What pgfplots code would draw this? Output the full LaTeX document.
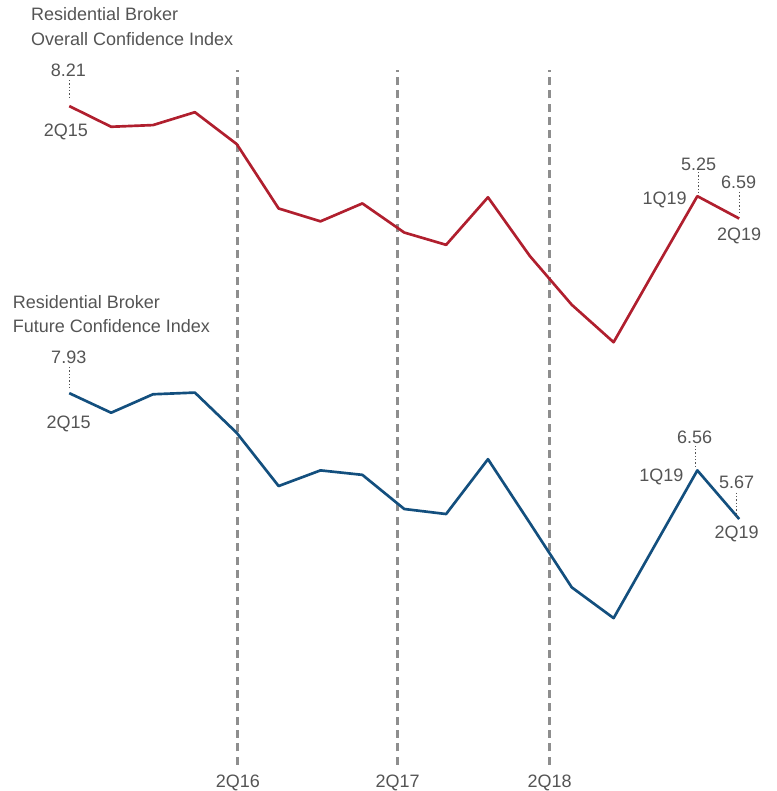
\documentclass[border=0pt]{standalone}
\usepackage{pgfplots}
\pgfplotsset{compat=1.18}
\usepackage{pgfplotstable}
\usepackage{fontspec}
\setmainfont{Liberation Sans}
\definecolor{redline}{HTML}{B01F2E}
\definecolor{blueline}{HTML}{134F7E}
\definecolor{txtgray}{HTML}{545454}
\definecolor{dashgray}{HTML}{8E8E8E}
% quarter index, overall (red), future (blue)
\pgfplotstableread{
i  overall future
0  8.21 7.93
1  7.84 7.58
2  7.87 7.91
3  8.10 7.94
4  7.53 7.22
5  6.38 6.27
6  6.15 6.55
7  6.47 6.47
8  5.95 5.86
9  5.73 5.77
10 6.58 6.75
11 5.53 5.61
12 4.66 4.46
13 3.99 3.91
14 5.30 5.23
15 6.60 6.55
16 6.20 5.68
}\datatable
\begin{document}
\begin{tikzpicture}[font=\fontsize{13.5pt}{18pt}\selectfont]
\begin{axis}[
  name=ax,
  scale only axis,
  width=582.75pt, height=593.25pt,
  xmin=-1.654, xmax=16.890,
  ymin=0.828, ymax=14.953,
  axis line style={draw=none},
  ytick=\empty,
  xtick={4.026,7.845,11.473},
  xticklabels={2Q16,2Q17,2Q18},
  major tick length=0pt,
  xticklabel style={anchor=base, inner sep=0pt, yshift=2.25pt, text=txtgray,
     font=\fontsize{13.5pt}{18pt}\selectfont},
  clip=false,
]
\addplot[dashgray, line width=2.1pt, dash pattern=on 6pt off 4pt] coordinates {(4.026,1.292) (4.026,13.703)};
\addplot[dashgray, line width=2.1pt, dash pattern=on 6pt off 4pt] coordinates {(7.845,1.292) (7.845,13.703)};
\addplot[dashgray, line width=2.1pt, dash pattern=on 6pt off 4pt] coordinates {(11.473,1.292) (11.473,13.703)};
\addplot[redline, line width=2pt, line join=round] table[x=i, y expr=\thisrow{overall}+4.85] {\datatable};
\addplot[blueline, line width=2pt, line join=round] table[x=i, y=future] {\datatable};
\path (rel axis cs:0,0) rectangle (rel axis cs:1,1);
\end{axis}
\begin{scope}[shift={(ax.north west)}, x=0.75pt, y=-0.75pt, every node/.style={inner sep=0pt, text=txtgray}]
  \node[anchor=base west] at (31,20.7) {Residential Broker};
  \node[anchor=base west] at (31,45) {Overall Confidence Index};
  \node[anchor=base west] at (12.7,308.3) {Residential Broker};
  \node[anchor=base west] at (12.7,332.3) {Future Confidence Index};
  \begin{scope}[every path/.style={draw=txtgray, line width=0.6pt, dash pattern=on 1pt off 1.5pt}]
    \draw (69,80) -- (69,100);
    \draw (698.5,172) -- (698.5,193);
    \draw (740,192) -- (740,215);
    \draw (69,367) -- (69,390);
    \draw (696,446) -- (696,469);
    \draw (737.3,493) -- (737.3,518);
  \end{scope}
  \node[anchor=base] at (68.5,76.7) {8.21};
  \node[anchor=base] at (66,136) {2Q15};
  \node[anchor=base] at (665,205) {1Q19};
  \node[anchor=base] at (699,170) {5.25};
  \node[anchor=base] at (739,189) {6.59};
  \node[anchor=base] at (739.7,241) {2Q19};
  \node[anchor=base] at (68.8,363.3) {7.93};
  \node[anchor=base] at (68.7,428.3) {2Q15};
  \node[anchor=base] at (695,443.3) {6.56};
  \node[anchor=base] at (661.7,481.7) {1Q19};
  \node[anchor=base] at (737,489) {5.67};
  \node[anchor=base] at (737,538.3) {2Q19};
\end{scope}
\end{tikzpicture}
\end{document}
